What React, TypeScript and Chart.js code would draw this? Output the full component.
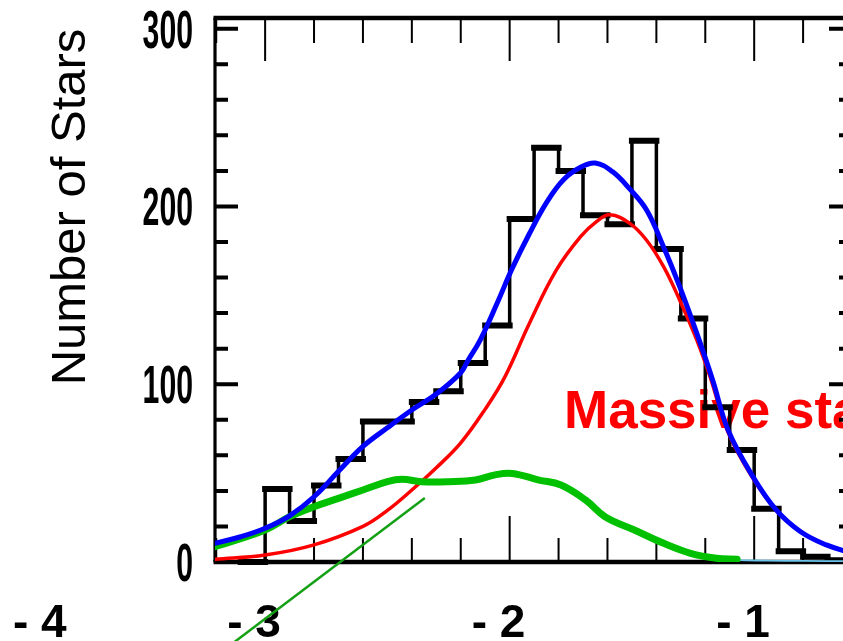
import React, { useEffect, useRef } from "react";
import { Chart, registerables } from "chart.js";

Chart.register(...registerables);

// ---------- data ----------
// histogram: left edge of each 0.1-wide bin and the star count in it
const binLefts = [-3.1, -3.0, -2.9, -2.8, -2.7, -2.6, -2.5, -2.4, -2.3, -2.2, -2.1, -2.0, -1.9, -1.8, -1.7, -1.6, -1.5, -1.4, -1.3, -1.2, -1.1, -1.0, -0.9, -0.8, -0.7];
const binCounts = [0, 41, 23, 43, 58, 79, 79, 90, 96, 112, 133, 193, 233, 220, 195, 190, 237, 176, 137, 87, 63, 30, 6, 3, 1];
const binWidth = 0.1;

// total fit (blue)
const totalX = [-3.205, -3.1, -3.0, -2.9, -2.8, -2.7, -2.6, -2.5, -2.4, -2.3, -2.2, -2.17, -2.12, -2.05, -1.99, -1.92, -1.85, -1.78, -1.71, -1.65, -1.58, -1.51, -1.44, -1.37, -1.305, -1.235, -1.17, -1.107, -1.005, -0.91, -0.81, -0.705, -0.6];
const totalY = [10.5, 14.2, 19, 26, 36.7, 51, 65, 75.5, 85.5, 94.5, 106.5, 113.5, 125, 146, 165, 184.5, 202, 215, 222, 224.4, 219.6, 210, 198, 177, 155, 128.7, 102.4, 74.3, 48, 29.3, 17, 9.6, 5];

// massive-star component (red)
const massiveX = [-3.205, -3.0, -2.8, -2.6, -2.5, -2.4, -2.3, -2.2, -2.1, -2.02, -1.92, -1.81, -1.71, -1.645, -1.59, -1.51, -1.44, -1.37, -1.305, -1.235, -1.18, -1.107, -1.005, -0.91, -0.81, -0.705, -0.6];
const massiveY = [1.5, 3.9, 9.6, 20, 29, 40.5, 53, 67, 86, 104, 134, 164, 183, 191.5, 195.3, 190.6, 181, 166, 147.4, 125, 104, 73, 47, 29, 17, 9.5, 5];

// second component (thick green)
const otherX = [-3.205, -3.0, -2.9, -2.8, -2.7, -2.6, -2.5, -2.44, -2.36, -2.25, -2.14, -2.06, -1.99, -1.88, -1.79, -1.69, -1.61, -1.49, -1.37, -1.26, -1.155, -1.07];
const otherY = [8.6, 18, 25.5, 31.1, 35.8, 40.5, 45.2, 46.5, 45.2, 45.2, 46.1, 49, 49.8, 46.1, 43.3, 34.9, 25.5, 18, 10.5, 4.9, 2.1, 1.5];

// faint cyan model that continues along the baseline
const cyanX = [-1.26, -1.155, -1.07, -0.95, -0.8, -0.6];
const cyanY = [4.2, 1.6, 1.0, 0.8, 0.6, 0.5];

// thin green diagonal line
const diagX = [-3.16, -2.347];
const diagY = [-48.6, 36];

// axis ticks / labels
const yTickValues = [0, 100, 200, 300];
const yTickLabels = ["0", "100", "200", "300"];
const xLabelValues = [-3.876, -3, -2, -1];
const xLabelTexts = ["- 4", "- 3", "- 2", "- 1"];
const yTitle = "Number of Stars";
const noteText = "Massive stars";

const X_MIN = -3.205;
const X_MAX = -0.6;
const Y_MIN = 0;
const Y_MAX = 306;

const pts = (xs: number[], ys: number[]) => xs.map((x, i) => ({ x, y: ys[i] }));

function histHorizontal() {
  const out: { x: number; y: number | null }[] = [];
  binLefts.forEach((l, i) => {
    const r = Math.round((l + binWidth) * 1000) / 1000;
    out.push({ x: l, y: binCounts[i] });
    out.push({ x: r, y: binCounts[i] });
    out.push({ x: r, y: null });
  });
  return out;
}

function histVertical() {
  const out: { x: number; y: number | null }[] = [];
  for (let i = 0; i < binLefts.length - 1; i++) {
    const e = binLefts[i + 1];
    out.push({ x: e, y: binCounts[i] });
    out.push({ x: e, y: binCounts[i + 1] });
    out.push({ x: e, y: null });
  }
  return out;
}

const framePlugin = {
  id: "framePlugin",
  beforeDatasetsDraw(chart: any) {
    const { ctx, chartArea: a, scales } = chart;
    const xs = scales.x;
    const ys = scales.y;
    ctx.save();

    // y title
    ctx.save();
    ctx.translate(85, 207);
    ctx.rotate(-Math.PI / 2);
    ctx.fillStyle = "#000";
    ctx.font = '49px "Liberation Sans", Arial, sans-serif';
    ctx.textAlign = "center";
    ctx.textBaseline = "alphabetic";
    ctx.fillText(yTitle, 0, 0);
    ctx.restore();

    // red annotation
    ctx.fillStyle = "#ff0000";
    ctx.font = 'bold 53px "Liberation Sans", Arial, sans-serif';
    ctx.textAlign = "left";
    ctx.textBaseline = "alphabetic";
    ctx.fillText(noteText, 564, 428);

    // frame
    ctx.strokeStyle = "#000";
    ctx.lineCap = "butt";
    ctx.lineWidth = 4.5;
    ctx.beginPath();
    ctx.moveTo(a.left - 1.5, a.top);
    ctx.lineTo(a.right + 1.5, a.top);
    ctx.moveTo(a.left - 1.5, a.bottom);
    ctx.lineTo(a.right + 1.5, a.bottom);
    ctx.stroke();
    ctx.lineWidth = 3.2;
    ctx.beginPath();
    ctx.moveTo(a.left, a.top);
    ctx.lineTo(a.left, a.bottom);
    ctx.moveTo(a.right, a.top);
    ctx.lineTo(a.right, a.bottom);
    ctx.stroke();

    // x ticks (bottom and top)
    ctx.lineWidth = 2;
    ctx.beginPath();
    for (let i = 0; i <= 13; i++) {
      const v = -3.2 + i * 0.2;
      const major = Math.abs(v - Math.round(v)) < 1e-6;
      const px = xs.getPixelForValue(v);
      ctx.moveTo(px, a.bottom);
      ctx.lineTo(px, a.bottom - (major ? 46 : 24));
      ctx.moveTo(px, a.top);
      ctx.lineTo(px, a.top + (major ? 43 : 25));
    }
    ctx.stroke();

    // y ticks (left and right)
    ctx.lineWidth = 4;
    ctx.beginPath();
    for (let i = 0; i <= 15; i++) {
      const v = i * 20;
      const major = v % 100 === 0;
      const py = ys.getPixelForValue(v);
      ctx.moveTo(a.left, py);
      ctx.lineTo(a.left + (major ? 23 : 13), py);
      ctx.moveTo(a.right, py);
      ctx.lineTo(a.right - (major ? 23 : 13), py);
    }
    ctx.stroke();

    // y tick labels (condensed)
    ctx.fillStyle = "#000";
    ctx.font = 'bold 53px "Liberation Sans", Arial, sans-serif';
    ctx.textAlign = "right";
    ctx.textBaseline = "alphabetic";
    yTickValues.forEach((v, i) => {
      const py = ys.getPixelForValue(v);
      ctx.save();
      ctx.translate(193, py + 19);
      ctx.scale(0.57, 1);
      ctx.fillText(yTickLabels[i], 0, 0);
      ctx.restore();
    });

    // x tick labels
    ctx.font = 'bold 46px "Liberation Sans", Arial, sans-serif';
    ctx.textAlign = "left";
    xLabelValues.forEach((v, i) => {
      const px = xs.getPixelForValue(v);
      ctx.fillText(xLabelTexts[i], px - 38, 637);
    });

    ctx.restore();
  },
};

export default function App() {
  const ref = useRef<HTMLCanvasElement | null>(null);

  useEffect(() => {
    document.body.style.margin = "0";
    document.body.style.overflow = "hidden";
    const canvas = ref.current;
    if (!canvas) return;
    const curve = {
      pointRadius: 0,
      tension: 0.4,
      borderCapStyle: "round" as const,
      borderJoinStyle: "round" as const,
      fill: false,
    };
    const chart = new Chart(canvas, {
      type: "line",
      data: {
        datasets: [
          {
            label: "diagonal",
            data: pts(diagX, diagY),
            borderColor: "#14a014",
            borderWidth: 2.5,
            pointRadius: 0,
            tension: 0,
            clip: false as any,
            order: 0,
          },
          {
            label: "total",
            data: pts(totalX, totalY),
            borderColor: "#0000ff",
            borderWidth: 5,
            order: 1,
            ...curve,
          },
          {
            label: "other",
            data: pts(otherX, otherY),
            borderColor: "#00c000",
            borderWidth: 7,
            order: 2,
            ...curve,
          },
          {
            label: "massive",
            data: pts(massiveX, massiveY),
            borderColor: "#ff0000",
            borderWidth: 3.5,
            order: 3,
            ...curve,
          },
          {
            label: "cyan",
            data: pts(cyanX, cyanY),
            borderColor: "#6cc4ec",
            borderWidth: 1.8,
            order: 4,
            ...curve,
          },
          {
            label: "histV",
            data: histVertical(),
            borderColor: "#000",
            borderWidth: 3.5,
            pointRadius: 0,
            spanGaps: false,
            tension: 0,
            borderCapStyle: "square",
            clip: false as any,
            order: 5,
          },
          {
            label: "histH",
            data: histHorizontal(),
            borderColor: "#000",
            borderWidth: 6,
            pointRadius: 0,
            spanGaps: false,
            tension: 0,
            borderCapStyle: "square",
            clip: false as any,
            order: 6,
          },
        ] as any,
      },
      options: {
        animation: false,
        responsive: false,
        events: [],
        layout: { padding: { left: 215, right: 18, top: 18, bottom: 79 } },
        scales: {
          x: { type: "linear", min: X_MIN, max: X_MAX, display: false },
          y: { type: "linear", min: Y_MIN, max: Y_MAX, display: false },
        },
        plugins: {
          legend: { display: false },
          tooltip: { enabled: false },
        },
      },
      plugins: [framePlugin],
    });
    return () => chart.destroy();
  }, []);

  return (
    <div style={{ width: 843, height: 641, overflow: "hidden", position: "relative", background: "#fff" }}>
      <canvas ref={ref} width={870} height={641} style={{ display: "block" }} />
    </div>
  );
}
